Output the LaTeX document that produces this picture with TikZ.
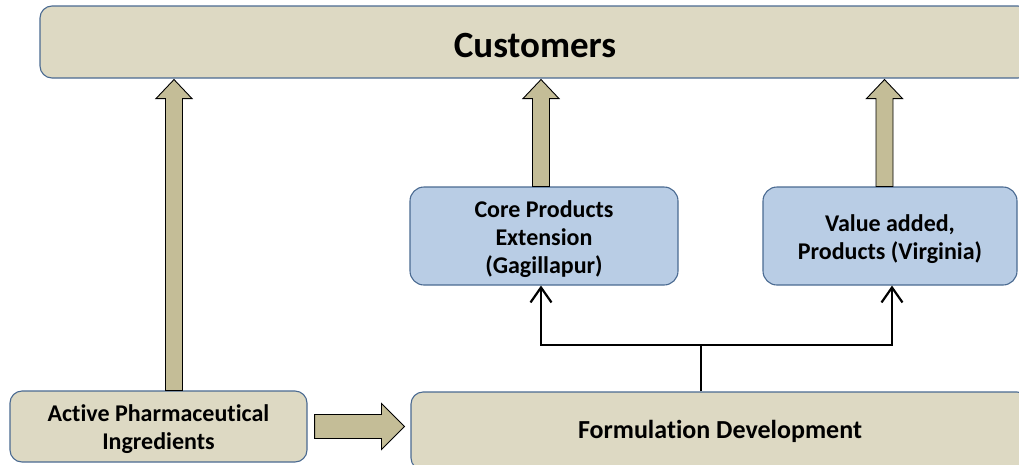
\documentclass[tikz,border=0pt]{standalone}
\usepackage{fontspec}
\setmainfont{Carlito}[Ligatures=NoCommon]
\usetikzlibrary{arrows.meta,calc}
\definecolor{tanfill}{HTML}{DDD9C3}
\definecolor{boxline}{HTML}{4A6A91}
\definecolor{bluefill}{HTML}{B9CDE5}
\definecolor{arrowfill}{HTML}{C4BD97}
\newcommand\fatup[2]{%
  \draw[fat] let \p1=(#1), \p2=(#2) in
  (\x1-8.5pt,\y1) -- (\x1-8.5pt,\y2-19pt) -- (\x1-18pt,\y2-19pt) -- (\x1,\y2)
  -- (\x1+18pt,\y2-19pt) -- (\x1+8.5pt,\y2-19pt) -- (\x1+8.5pt,\y1) -- cycle;}
\newcommand\fatright[2]{%
  \draw[fat] let \p1=(#1), \p2=(#2) in
  (\x1,\y1+12pt) -- (\x2-23pt,\y1+12pt) -- (\x2-23pt,\y1+23pt) -- (\x2,\y1)
  -- (\x2-23pt,\y1-23pt) -- (\x2-23pt,\y1-12pt) -- (\x1,\y1-12pt) -- cycle;}
\newcommand\lift{\rule{0pt}{23pt}}
\begin{document}
\begin{tikzpicture}[x=1pt,y=-1pt,
  tanbox/.style={draw=boxline,line width=1.1pt,fill=tanfill,rounded corners=12pt,
    font=\fontsize{24}{28}\selectfont\bfseries,align=center,inner sep=0pt},
  bluebox/.style={draw=boxline,line width=1.1pt,fill=bluefill,rounded corners=14pt,
    font=\fontsize{24}{28}\selectfont\bfseries,align=center,inner sep=0pt},
  fat/.style={draw=black,line width=0.9pt,fill=arrowfill,line join=miter},
  link/.style={line width=2.2pt,-{Straight Barb[length=15pt,width=21pt]}},
  plain/.style={line width=2.2pt}]
\useasboundingbox (0,0) rectangle (1019,464);
\clip (0,0) rectangle (1019,464);

\node[tanbox,minimum width=990pt,minimum height=72pt,
  font=\fontsize{37}{44}\selectfont\bfseries,text height=30pt,text depth=0pt]
  (cust) at (535,42) {Customers};
\node[tanbox,minimum width=297pt,minimum height=71pt] (api) at (158.5,426.5)
  {\lift Active Pharmaceutical\\Ingredients};
\node[tanbox,minimum width=618pt,minimum height=78pt,
  font=\fontsize{26}{30}\selectfont\bfseries] (form) at (720,431)
  {Formulation Development};
\node[bluebox,minimum width=268pt,minimum height=98pt] (core) at (544,236)
  {\lift Core Products\\Extension\\(Gagillapur)};
\node[bluebox,minimum width=254pt,minimum height=98pt] (val) at (890,236)
  {\lift Value added,\\Products (Virginia)};

\coordinate (c1) at (174,0);
\coordinate (c2) at (541,0);
\coordinate (c3) at (884.5,0);
\coordinate (c4) at (892,0);
\coordinate (j) at (701,345);

\fatup{api.north -| c1}{$(cust.south -| c1)+(0,1)$}
\fatup{core.north -| c2}{$(cust.south -| c2)+(0,1)$}
\fatup{val.north -| c3}{$(cust.south -| c3)+(0,1)$}
\fatright{$(api.east)+(7,0)$}{$(api.east -| form.west)+(-6,0)$}

\draw[plain] (form.north -| j) -- (j);
\draw[link] (j) -| (core.south -| c2);
\draw[link] (j) -| (val.south -| c4);
\end{tikzpicture}
\end{document}
